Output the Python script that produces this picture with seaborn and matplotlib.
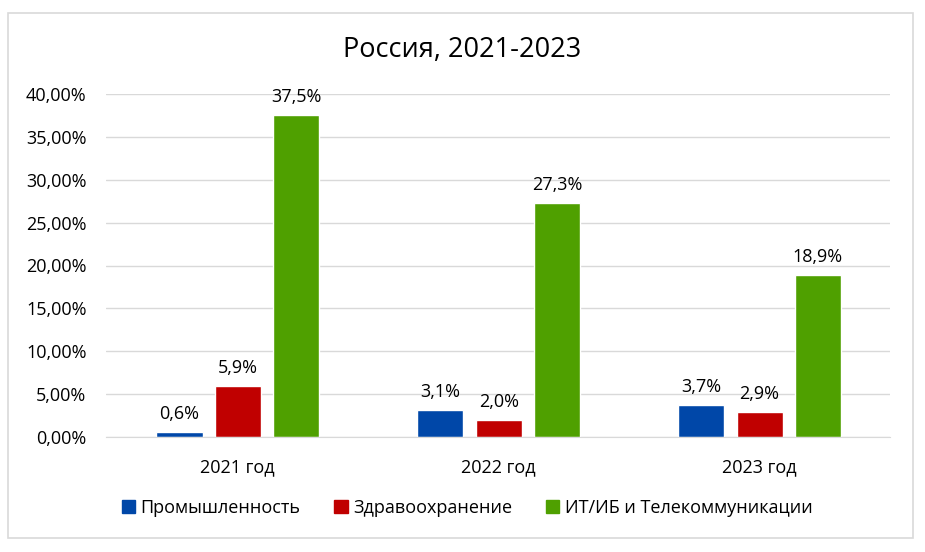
import matplotlib
matplotlib.use("Agg")
import matplotlib.pyplot as plt
import matplotlib.patches as mpatches
from matplotlib.ticker import FuncFormatter, MultipleLocator
import seaborn as sns
import pandas as pd

years = ["2021 год", "2022 год", "2023 год"]
series_names = ["Промышленность", "Здравоохранение", "ИТ/ИБ и Телекоммуникации"]
industry = [0.6, 3.1, 3.7]
health = [5.9, 2.0, 2.9]
it_telecom = [37.5, 27.3, 18.9]
colors = ["#0047A8", "#C00000", "#4FA000"]
title = "Россия, 2021-2023"

rows = []
for name, vals in zip(series_names, [industry, health, it_telecom]):
    for y, v in zip(years, vals):
        rows.append({"year": y, "series": name, "value": v})
df = pd.DataFrame(rows)

sns.set_style("white")
plt.rcParams["font.family"] = ["Open Sans", "DejaVu Sans"]
plt.rcParams["text.color"] = "black"

FS = 13

fig = plt.figure(figsize=(9.25, 5.52), dpi=100)
ax = fig.add_axes([106 / 925, 1 - 437 / 552, (890 - 106) / 925, (437 - 94) / 552])

sns.barplot(data=df, x="year", y="value", hue="series", hue_order=series_names,
            order=years, palette=colors, width=0.67, gap=0.21, ax=ax,
            saturation=1, errorbar=None, legend=False)

ax.set_ylim(0, 40)
ax.set_xlim(-0.505, 2.5)
ax.yaxis.set_major_locator(MultipleLocator(5))
ax.yaxis.set_major_formatter(FuncFormatter(lambda v, p: f"{v:.2f}".replace(".", ",") + "%"))
ax.grid(axis="y", color="#D9D9D9", linewidth=1)
ax.set_axisbelow(True)
for s in ["top", "right", "left"]:
    ax.spines[s].set_visible(False)
ax.spines["bottom"].set_color("#D9D9D9")
ax.tick_params(axis="both", length=0, labelsize=FS, colors="#000000")
ax.tick_params(axis="x", pad=15)
ax.tick_params(axis="y", pad=14)
ax.set_xlabel("")
ax.set_ylabel("")

for cont in ax.containers:
    ax.bar_label(cont, labels=[f"{b.get_height():.1f}".replace(".", ",") + "%" for b in cont],
                 padding=6.5, fontsize=FS, color="black")

fig.text(0.5, 1 - 50 / 552, title, ha="center", va="center", fontsize=19.5, color="black")

handles = [mpatches.Patch(color=c, label=n) for c, n in zip(colors, series_names)]
fig.legend(handles=handles, loc="center", bbox_to_anchor=(467 / 925, 1 - 508 / 552),
           ncol=3, frameon=False, fontsize=FS, handlelength=0.75, handleheight=0.75,
           handletextpad=0.3, columnspacing=1.85, labelcolor="black")

border = mpatches.Rectangle((8 / 925, 1 - 538 / 552), (913 - 8) / 925, (538 - 13) / 552,
                            transform=fig.transFigure, fill=False, edgecolor="#D9D9D9",
                            linewidth=1.2)
fig.patches.append(border)

fig.savefig("out.png", dpi=100, facecolor="white")
